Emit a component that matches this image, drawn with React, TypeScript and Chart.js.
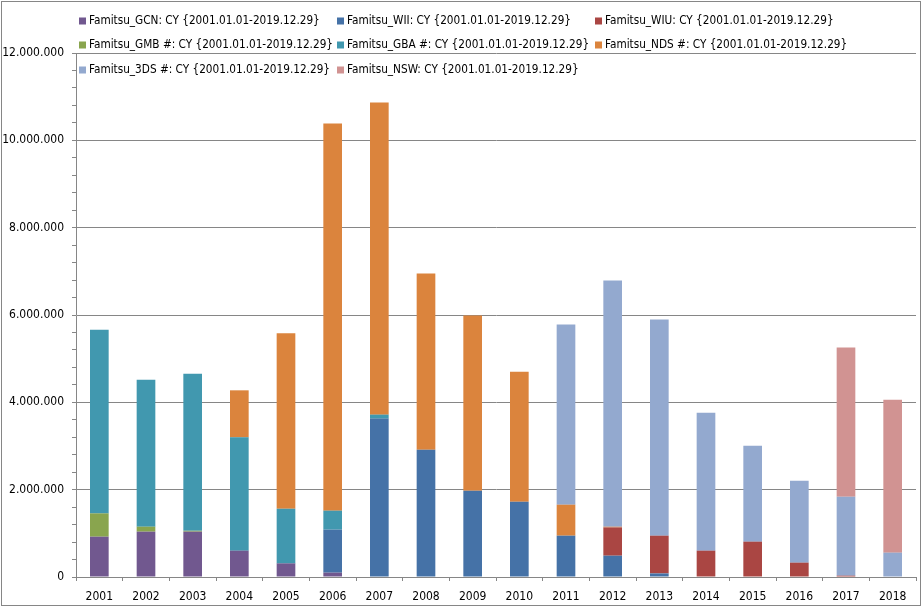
import React, { useEffect, useRef } from "react";
import { Chart, registerables } from "chart.js";

Chart.register(...registerables);

const years = ["2001","2002","2003","2004","2005","2006","2007","2008","2009","2010","2011","2012","2013","2014","2015","2016","2017","2018"];

const gcn = [923000, 1038000, 1038000, 603000, 312000, 99000, 0, 0, 0, 0, 0, 0, 0, 0, 0, 0, 0, 0];
const wii = [0, 0, 0, 0, 0, 985000, 3627000, 2916000, 1977000, 1725000, 946000, 488000, 82000, 0, 0, 0, 0, 0];
const wiiu = [0, 0, 0, 0, 0, 0, 0, 0, 0, 0, 0, 648000, 864000, 603000, 809000, 328000, 30000, 0];
const gmb = [534000, 114000, 20000, 0, 0, 0, 0, 0, 0, 0, 0, 0, 0, 0, 0, 0, 0, 0];
const gba = [4208000, 3368000, 3596000, 2595000, 1253000, 435000, 91000, 0, 0, 0, 0, 0, 0, 0, 0, 0, 0, 0];
const nds = [0, 0, 0, 1077000, 4016000, 8866000, 7148000, 4033000, 4009000, 2978000, 710000, 15000, 0, 0, 0, 0, 0, 0];
const n3ds = [0, 0, 0, 0, 0, 0, 0, 0, 0, 0, 4124000, 5638000, 4949000, 3161000, 2199000, 1878000, 1810000, 557000];
const nsw = [0, 0, 0, 0, 0, 0, 0, 0, 0, 0, 0, 0, 0, 0, 0, 0, 3413000, 3505000];

const seriesLabels = [
  "Famitsu_GCN: CY {2001.01.01-2019.12.29}",
  "Famitsu_WII: CY {2001.01.01-2019.12.29}",
  "Famitsu_WIU: CY {2001.01.01-2019.12.29}",
  "Famitsu_GMB #: CY {2001.01.01-2019.12.29}",
  "Famitsu_GBA #: CY {2001.01.01-2019.12.29}",
  "Famitsu_NDS #: CY {2001.01.01-2019.12.29}",
  "Famitsu_3DS #: CY {2001.01.01-2019.12.29}",
  "Famitsu_NSW: CY {2001.01.01-2019.12.29}",
];
const seriesData = [gcn, wii, wiiu, gmb, gba, nds, n3ds, nsw];
const seriesColors = ["#71588F", "#4572A7", "#AA4643", "#89A54E", "#4198AF", "#DB843D", "#93A9CF", "#D19392"];

const FONT = "'DejaVu Sans Condensed', 'Liberation Sans', sans-serif";
const GRAY = "#868686";

function fmt(v: number): string {
  return String(Math.round(v)).replace(/\B(?=(\d{3})+(?!\d))/g, ".");
}

const framePlugin = {
  id: "frame",
  beforeDraw(chart: any) {
    const ctx = chart.ctx;
    ctx.save();
    ctx.fillStyle = "#ffffff";
    ctx.fillRect(0, 0, chart.width, chart.height);
    ctx.strokeStyle = GRAY;
    ctx.lineWidth = 1;
    ctx.strokeRect(1.5, 1.5, 919, 604);
    ctx.restore();
  },
};

const legendPlugin = {
  id: "customLegend",
  afterDraw(chart: any) {
    const ctx = chart.ctx;
    const cols = [79, 337, 595];
    const rows = [21, 45, 70];
    ctx.save();
    ctx.font = "11.7px " + FONT;
    ctx.textBaseline = "middle";
    ctx.textAlign = "left";
    chart.data.datasets.forEach((ds: any, i: number) => {
      const x = cols[i % 3];
      const y = rows[Math.floor(i / 3)];
      ctx.fillStyle = ds.backgroundColor;
      ctx.fillRect(x, y - 3.5, 7, 7);
      ctx.fillStyle = "#000000";
      ctx.fillText(ds.label, x + 10, y);
    });
    ctx.restore();
  },
};

export default function App() {
  const ref = useRef<HTMLCanvasElement | null>(null);
  useEffect(() => {
    document.body.style.margin = "0";
    const canvas = ref.current;
    if (!canvas) return;
    const chart = new Chart(canvas, {
      type: "bar",
      data: {
        labels: years,
        datasets: seriesData.map((d, i) => ({
          label: seriesLabels[i],
          data: d.map((v) => (v === 0 ? null : v)),
          backgroundColor: seriesColors[i],
          borderWidth: 0,
          inflateAmount: 0,
          barPercentage: 0.4,
          categoryPercentage: 1,
        })),
      },
      options: {
        animation: false,
        responsive: false,
        devicePixelRatio: 1,
        layout: { padding: { top: 53, right: 7, bottom: 0, left: 0 } },
        plugins: {
          legend: { display: false },
          tooltip: { enabled: false },
          title: { display: false },
        },
        scales: {
          x: {
            stacked: true,
            afterFit: (scale: any) => { scale.height = 30; },
            grid: {
              display: true,
              offset: true,
              drawOnChartArea: false,
              drawTicks: true,
              tickLength: 4,
              color: GRAY,
              tickColor: GRAY,
            },
            border: { display: true, color: GRAY, width: 1 },
            ticks: {
              color: "#000000",
              font: { family: FONT, size: 12 },
              padding: 9,
              maxRotation: 0,
              autoSkip: false,
            },
          },
          y: {
            stacked: true,
            min: 0,
            max: 12000000,
            afterFit: (scale: any) => { scale.width = 76; },
            grid: {
              display: true,
              drawTicks: true,
              tickLength: 4,
              color: (c: any) => (c.tick && c.tick.value % 2000000 === 0 ? GRAY : "rgba(0,0,0,0)"),
              tickColor: GRAY,
            },
            border: { display: true, color: GRAY, width: 1 },
            ticks: {
              stepSize: 400000,
              autoSkip: false,
              color: "#000000",
              font: { family: FONT, size: 12 },
              padding: 8,
              callback: (v: any) => (Number(v) % 2000000 === 0 ? fmt(Number(v)) : ""),
            },
          },
        },
      },
      plugins: [framePlugin, legendPlugin],
    });
    return () => chart.destroy();
  }, []);
  return (
    <div style={{ width: 923, height: 607 }}>
      <canvas ref={ref} width={923} height={607} style={{ display: "block" }} />
    </div>
  );
}
